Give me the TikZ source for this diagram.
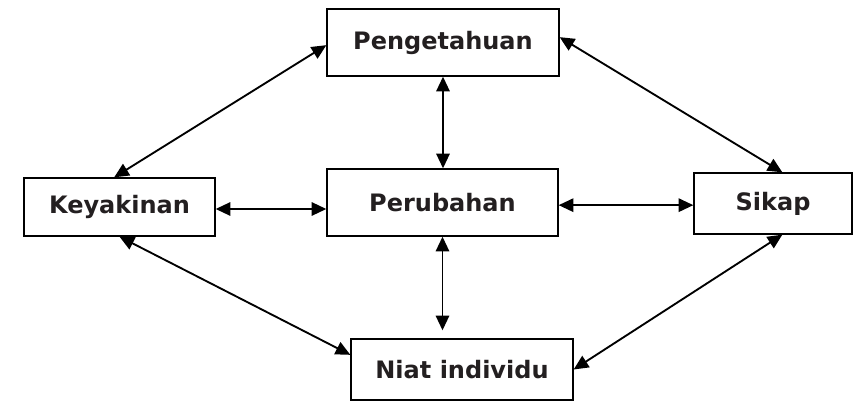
\documentclass[tikz,border=0pt]{standalone}
\usepackage{fontspec}
\setmainfont{DejaVu Sans}
\usetikzlibrary{arrows.meta}

\definecolor{teks}{HTML}{231F20}
\tikzset{
	konsep/.style={draw, line width=1pt, inner sep=0pt, text=teks,
		font=\fontsize{18}{21}\selectfont\bfseries},
	panah/.style={{Triangle[length=11pt,width=10pt]}-{Triangle[length=11pt,width=10pt]}, line width=1.4pt}
}

\begin{document}
\begin{tikzpicture}[x=.75pt,y=-.75pt]
			\useasboundingbox (0,0) rectangle (855,402);
			
			\node[konsep, minimum width=174pt, minimum height=50.25pt] (pengetahuan) at (443,42.5) {Pengetahuan};
			\node[konsep, minimum width=143.25pt, minimum height=43.5pt] (keyakinan) at (119.5,207) {Keyakinan};
			\node[konsep, minimum width=173.25pt, minimum height=50.25pt] (perubahan) at (442.5,202.5) {Perubahan};
			\node[konsep, minimum width=118.5pt, minimum height=45.75pt] (sikap) at (773,203.5) {Sikap};
			\node[konsep, minimum width=166.5pt, minimum height=45.75pt] (niat) at (462,369.5) {Niat individu};
			
			% sisi luar
			\draw[panah] ([xshift=-4pt]keyakinan.north) -- ([yshift=-2pt]pengetahuan.west);
			\draw[panah] ([yshift=4pt]pengetahuan.east) -- ([xshift=7pt]sikap.north);
			\draw[panah] (keyakinan.south) -- ([yshift=11pt]niat.west);
			\draw[panah] ([xshift=7pt]sikap.south) -- (niat.east);
			
			% ke tengah
			\draw[panah] (pengetahuan.south) -- (pengetahuan.south |- perubahan.north);
			\draw[panah] (perubahan.south) -- ([yshift=6pt]perubahan.south |- niat.north);
			\draw[panah] ([yshift=-1.5pt]keyakinan.east) -- ([yshift=-1.5pt]keyakinan.east -| perubahan.west);
			\draw[panah] ([yshift=-2pt]perubahan.east) -- ([yshift=-2pt]perubahan.east -| sikap.west);
\end{tikzpicture}
\end{document}
